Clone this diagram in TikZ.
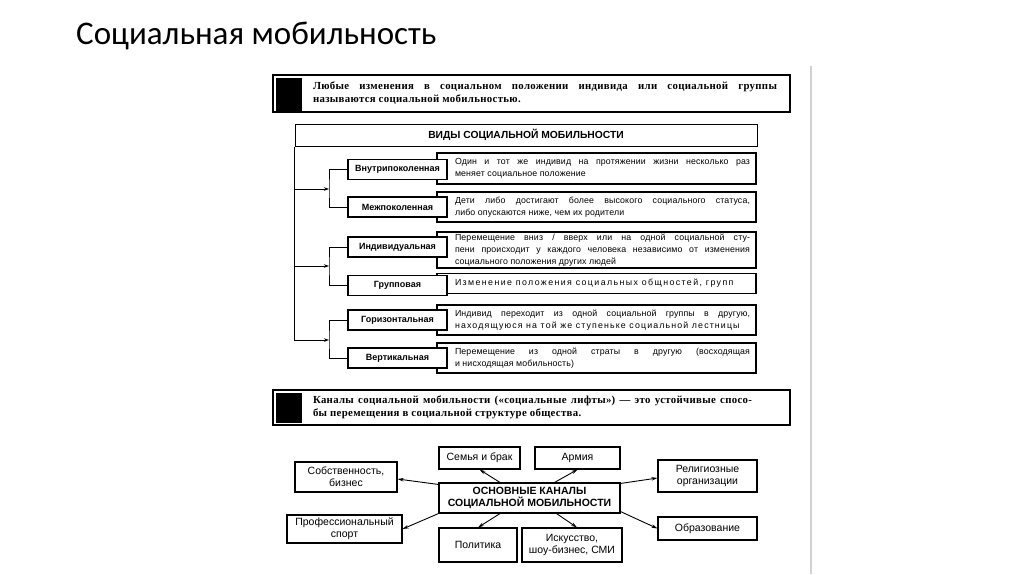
\documentclass[tikz,border=0pt]{standalone}
\usepackage{fontspec}
\setmainfont{Liberation Serif}
\setsansfont{Liberation Sans}
\newfontfamily\titlefont{Carlito}
\newfontfamily\deffont{Liberation Serif}[LetterSpace=3]
\newfontfamily\smallsans{Liberation Sans}[LetterSpace=1.5]
\newfontfamily\widesansA{Liberation Sans}[LetterSpace=16]
\newfontfamily\widesansB{Liberation Sans}[LetterSpace=13]
\newfontfamily\labsans{Liberation Sans}
\usetikzlibrary{arrows.meta}
\newcommand{\mydefline}[1]{\makebox[517pt][l]{\hspace{40pt}#1}}
\newcommand{\mytjust}[1]{\makebox[307pt][l]{\hspace{12pt}\makebox[295pt][s]{#1}}}
\newcommand{\mytrag}[1]{\makebox[307pt][l]{\hspace{12pt}#1}}
\begin{document}
\begin{tikzpicture}[x=1pt,y=-1pt,
  defbox/.style={draw, line width=1.4pt, inner sep=0pt, align=left,
    font=\deffont\bfseries\fontsize{10.8}{13}\selectfont},
  sq/.style={fill=black, draw=black, inner sep=0pt, minimum width=25pt},
  hdrbox/.style={draw, line width=1pt, inner sep=0pt, minimum width=462pt, minimum height=22pt,
    font=\labsans\bfseries\fontsize{10.3}{12}\selectfont},
  lbox/.style={draw, line width=1.1pt, fill=white, inner sep=0pt, minimum width=99pt, minimum height=20pt,
    font=\labsans\bfseries\fontsize{9}{11}\selectfont},
  tbox/.style={draw, line width=1.1pt, inner sep=0pt, minimum width=319pt, align=left,
    font=\smallsans\fontsize{8.8}{12}\selectfont},
  cbox/.style={draw, line width=1.1pt, inner sep=0pt, align=center,
    font=\labsans\fontsize{10.5}{12}\selectfont},
  tree/.style={line width=0.9pt},
  tarr/.style={tree, -{Stealth[length=5pt,width=3.5pt]}},
  arr/.style={line width=0.9pt, -{Stealth[length=6pt,width=3.5pt]}}
]
\useasboundingbox (0,0) rectangle (1024,574);
\fill[white] (0,0) rectangle (1024,574);

% title
\node[anchor=base west, inner sep=0pt, font=\titlefont\fontsize{33}{36}\selectfont] (title) at (76,44) {Социальная мобильность};

% grey page rule
\draw[gray!35, line width=2pt] (811,66) -- (811,574);

% definition 1
\node[defbox, minimum width=517pt, minimum height=37pt] (def1) at (531.5,93.5)
  {\mydefline{\makebox[464pt][s]{Любые изменения в социальном положении индивида или социальной группы}}\\
   \mydefline{называются социальной мобильностью.}};
\node[sq, minimum height=32pt] (sq1) at (288.5,94) {};

% header of types
\node[hdrbox] (hdr) at (526,135) {ВИДЫ СОЦИАЛЬНОЙ МОБИЛЬНОСТИ};

% right description boxes
\node[tbox, minimum height=31pt] (t1) at (596.5,168.5)
  {\mytjust{Один и тот же индивид на протяжении жизни несколько раз}\\
   \mytrag{меняет социальное положение}};
\node[tbox, minimum height=30pt] (t2) at (596.5,207)
  {\mytjust{Дети либо достигают более высокого социального статуса,}\\
   \mytrag{либо опускаются ниже, чем их родители}};
\node[tbox, minimum height=36pt] (t3) at (596.5,250)
  {\mytjust{Перемещение вниз / вверх или на одной социальной сту-}\\
   \mytjust{пени происходит у каждого человека независимо от изменения}\\
   \mytrag{социального положения других людей}};
\node[tbox, minimum height=20pt] (t4) at (596.5,283.5)
  {\mytrag{\widesansA Изменение положения социальных общностей, групп}};
\node[tbox, minimum height=30pt] (t5) at (596.5,320)
  {\mytjust{Индивид переходит из одной социальной группы в другую,}\\
   \mytrag{\widesansB находящуюся на той же ступеньке социальной лестницы}};
\node[tbox, minimum height=30pt] (t6) at (596.5,358)
  {\mytjust{Перемещение из одной страты в другую (восходящая}\\
   \mytrag{и нисходящая мобильность)}};

% left type boxes
\node[lbox] (vnutri) at (397.5,169.5) {Внутрипоколенная};
\node[lbox] (mezh)   at (397.5,207)   {Межпоколенная};
\node[lbox] (indiv)  at (397.5,247)   {Индивидуальная};
\node[lbox] (grupp)  at (397.5,285.5) {Групповая};
\node[lbox] (gor)    at (397.5,320)   {Горизонтальная};
\node[lbox] (vert)   at (397.5,358)   {Вертикальная};

% tree connectors
\coordinate (b1) at (329,189);
\coordinate (b2) at (329,266);
\coordinate (b3) at (329,340);
\draw[tarr] (hdr.south west) |- (b3);
\draw[tarr] (hdr.south west |- b1) -- (b1);
\draw[tarr] (hdr.south west |- b2) -- (b2);
\draw[tree] (vnutri.west) -| (b1) |- (mezh.west);
\draw[tree] (indiv.west) -| (b2) |- (grupp.west);
\draw[tree] (gor.west) -| (b3) |- (vert.west);

% definition 2
\node[defbox, minimum width=517pt, minimum height=35pt] (def2) at (531.5,407.5)
  {\mydefline{\makebox[439pt][s]{Каналы социальной мобильности («социальные лифты») — это устойчивые спосо-}}\\
   \mydefline{бы перемещения в социальной структуре общества.}};
\node[sq, minimum height=29pt] (sq2) at (288.5,407.5) {};

% channels
\node[cbox, minimum width=181pt, minimum height=30pt, font=\labsans\bfseries\fontsize{10.5}{12}\selectfont] (cen) at (529.5,498)
  {ОСНОВНЫЕ КАНАЛЫ\\СОЦИАЛЬНОЙ МОБИЛЬНОСТИ};
\node[cbox, minimum width=81pt, minimum height=22pt] (semya) at (479.5,458) {Семья и брак};
\node[cbox, minimum width=85pt, minimum height=22pt] (armiya) at (577.5,458) {Армия};
\node[cbox, minimum width=102pt, minimum height=30pt] (sobst) at (346,477) {Собственность,\\бизнес};
\node[cbox, minimum width=115pt, minimum height=28pt] (sport) at (344.5,529) {Профессиональный\\спорт};
\node[cbox, minimum width=78pt, minimum height=34pt] (polit) at (478,545) {Политика};
\node[cbox, minimum width=100pt, minimum height=34pt] (isk) at (572,545) {Искусство,\\шоу-бизнес, СМИ};
\node[cbox, minimum width=99pt, minimum height=32pt] (relig) at (707.5,476) {Религиозные\\организации};
\node[cbox, minimum width=99pt, minimum height=23pt] (obraz) at (707.5,528.5) {Образование};

\draw[arr] ([yshift=-2pt]cen.north west) -- ([yshift=-2pt]sobst.east);
\draw[arr] ([xshift=-29.5pt]cen.north) -- (semya.south);
\draw[arr] ([xshift=25pt]cen.north) -- (armiya.south);
\draw[arr] ([yshift=-1pt]cen.north east) -- ([yshift=-2pt]relig.west);
\draw[arr] (cen.south west) -- (sport.east);
\draw[arr] ([xshift=-29.5pt]cen.south) -- (polit.north);
\draw[arr] ([xshift=27pt]cen.south) -- ([xshift=5pt]isk.north);
\draw[arr] ([yshift=2pt]cen.south east) -- (obraz.west);
\end{tikzpicture}
\end{document}
